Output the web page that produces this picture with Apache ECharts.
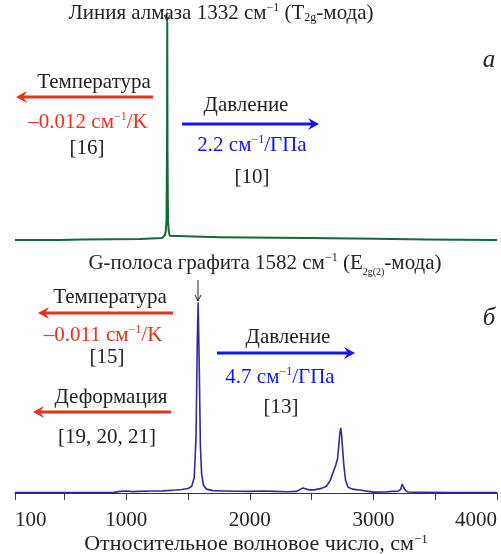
<!DOCTYPE html>
<html>
<head>
<meta charset="utf-8">
<script src="https://cdn.jsdelivr.net/npm/echarts@6/dist/echarts.min.js"></script>
<style>
    html, body { margin: 0; padding: 0; background: #fff; }
    #chart { width: 501px; height: 554px; }
</style>
</head>
<body>
<div id="chart"></div>
<script>
// спектр алмаза (верхняя панель)
const diamondX = [100, 300, 450, 455, 640, 650, 1110, 1120, 1290, 1300, 1312, 1320, 1326, 1330, 1332, 1334, 1338, 1344, 1352, 1362, 1750, 1760, 2460, 2470, 3020, 3030, 3420, 3430, 4000]
const diamondY = [0, 0, 0, 0.2, 0.2, 0.5, 0.5, 0.9, 0.9, 1.3, 2.2, 4, 9, 40, 100, 40, 9, 4, 2, 1.3, 1.3, 0.9, 0.9, 0.6, 0.6, 0.2, 0.2, 0, 0]

// спектр графита (нижняя панель)
const graphiteX = [100, 500, 900, 950, 1000, 1050, 1100, 1200, 1300, 1400, 1450, 1500, 1530, 1550, 1565, 1575, 1582, 1590, 1600, 1610, 1625, 1650, 1700, 1800, 1900, 2000, 2100, 2200, 2300, 2380, 2410, 2430, 2450, 2480, 2520, 2580, 2620, 2650, 2675, 2695, 2710, 2720, 2728, 2735, 2742, 2750, 2760, 2775, 2795, 2830, 2900, 3000, 3100, 3150, 3200, 3220, 3232, 3240, 3248, 3260, 3280, 3400, 3600, 4000]
const graphiteY = [0.2, 0.2, 0.3, 0.8, 1.0, 0.7, 0.8, 1.0, 1.1, 1.5, 1.8, 2.3, 3.5, 8, 30, 80, 100, 70, 25, 10, 4, 2, 1.2, 1.0, 0.9, 0.8, 1.0, 0.8, 0.6, 0.8, 2.0, 2.6, 2.2, 1.6, 1.6, 2.4, 3.5, 6.5, 11, 14.5, 18, 25, 31, 34, 31, 24, 15, 6.5, 3, 2, 1.4, 0.4, 0.5, 0.8, 0.9, 1.8, 4.5, 5.3, 3.5, 1.2, 0.5, 0.3, 0.2, 0.2]

const tickValues = [100, 500, 1000, 1500, 2000, 2500, 3000, 3500, 4000]
const labelValues = [100, 1000, 2000, 3000, 4000]

const FONT = '"Liberation Serif", "DejaVu Serif", serif'
const RED = '#e6311f'
const BLUE = '#1414f0'
const INK = '#222'

function pairs(xs, ys) {
    return xs.map((x, i) => [x, ys[i]])
}

function rich(color) {
    return {
        n: { fontSize: 21, fontFamily: FONT, fill: color, lineHeight: 22 },
        sup: { fontSize: 12, fontFamily: FONT, fill: color, lineHeight: 12, verticalAlign: 'top' },
        sub: { fontSize: 12, fontFamily: FONT, fill: color, lineHeight: 12, verticalAlign: 'bottom' },
        sub2: { fontSize: 10, fontFamily: FONT, fill: color, lineHeight: 10, verticalAlign: 'bottom', padding: [0, 0, -3, 0] }
    }
}

function label(x, y, text, color) {
    return {
        type: 'text', x: x, y: y, silent: true,
        style: {
            text: text, textAlign: 'center', textVerticalAlign: 'middle',
            fontSize: 21, fontFamily: FONT, fill: color || INK,
            rich: rich(color || INK)
        }
    }
}

function arrow(x1, x2, y, color) {
    // толстая стрелка, x2 - острие
    const d = x2 > x1 ? -1 : 1
    return [{
        type: 'line', silent: true,
        shape: { x1: x1, y1: y, x2: x2 + d * 4, y2: y },
        style: { stroke: color, lineWidth: 3 }
    }, {
        type: 'polygon', silent: true,
        shape: { points: [[x2, y], [x2 + d * 11, y - 6], [x2 + d * 7, y], [x2 + d * 11, y + 6]] },
        style: { fill: color }
    }]
}

function pointer(x, y1, y2) {
    return [{
        type: 'line', silent: true, z: 10,
        shape: { x1: x, y1: y1, x2: x, y2: y2 },
        style: { stroke: INK, lineWidth: 1 }
    }, {
        type: 'polyline', silent: true, z: 10,
        shape: { points: [[x - 3, y2 - 6], [x, y2], [x + 3, y2 - 6]] },
        style: { stroke: INK, lineWidth: 1, fill: null }
    }]
}

const graphic = [
    label(221, 13, '{n|Линия алмаза 1332 см}{sup|−1}{n| (T}{sub|2g}{n|-мода)}'),
    {
        type: 'text', x: 489, y: 60, silent: true,
        style: { text: 'а', textAlign: 'center', textVerticalAlign: 'middle', fontSize: 25, fontStyle: 'italic', fontFamily: FONT, fill: INK }
    },
    label(94, 82, 'Температура'),
    ...arrow(153, 16, 97, RED),
    label(88, 122, '{n|–0.012 см}{sup|−1}{n|/K}', RED),
    label(87, 148, '[16]'),
    label(246, 105, 'Давление'),
    ...arrow(182, 319, 124, BLUE),
    label(252, 145, '{n|2.2 см}{sup|−1}{n|/ГПа}', BLUE),
    label(252, 177, '[10]'),
    ...pointer(167, 12, 21),

    label(265, 263, '{n|G-полоса графита 1582 см}{sup|−1}{n| (E}{sub2|2g(2)}{n|-мода)}'),
    {
        type: 'text', x: 489, y: 318, silent: true,
        style: { text: 'б', textAlign: 'center', textVerticalAlign: 'middle', fontSize: 25, fontStyle: 'italic', fontFamily: FONT, fill: INK }
    },
    label(110, 297, 'Температура'),
    ...arrow(173, 38, 313, RED),
    label(103, 335, '{n|–0.011 см}{sup|−1}{n|/K}', RED),
    label(107, 357, '[15]'),
    label(111, 397, 'Деформация'),
    ...arrow(171, 33, 412, RED),
    label(107, 437, '[19, 20, 21]'),
    label(288, 337, 'Давление'),
    ...arrow(217, 355, 353, BLUE),
    label(280, 377, '{n|4.7 см}{sup|−1}{n|/ГПа}', BLUE),
    label(281, 407, '[13]'),
    ...pointer(198, 280, 301)
]

const chart = echarts.init(document.getElementById('chart'))
const option = {
    animation: false,
    grid: [
        { left: 15, right: 4, top: 22, height: 218, outerBoundsMode: 'none' },
        { left: 15, right: 4, top: 303, height: 196, outerBoundsMode: 'none' }
    ],
    xAxis: [{
        gridIndex: 0, type: 'value', min: 100, max: 4000, show: false
    }, {
        gridIndex: 1, type: 'value', min: 100, max: 4000,
        axisLine: { lineStyle: { color: '#333', width: 1 } },
        axisTick: { length: 7, lineStyle: { color: '#333' }, customValues: tickValues },
        axisLabel: {
            customValues: labelValues, fontSize: 21, fontFamily: FONT, color: INK, margin: 11,
            alignMinLabel: 'left', alignMaxLabel: 'right',
            formatter: (v) => String(v)
        },
        splitLine: { show: false },
        name: '{n|Относительное волновое число, см}{sup|−1}',
        nameLocation: 'middle',
        nameGap: 34,
        nameTextStyle: { fontFamily: FONT, fontSize: 22, color: INK, rich: {
            n: { fontSize: 22, fontFamily: FONT, color: INK, lineHeight: 22 },
            sup: { fontSize: 13, fontFamily: FONT, color: INK, lineHeight: 12, verticalAlign: 'top' }
        } }
    }],
    yAxis: [
        { gridIndex: 0, type: 'value', min: 0, max: 100, show: false },
        { gridIndex: 1, type: 'value', min: -3.2, max: 100, show: false }
    ],
    series: [{
        type: 'line', xAxisIndex: 0, yAxisIndex: 0,
        data: pairs(diamondX, diamondY),
        symbol: 'none', lineStyle: { color: '#13693a', width: 2, join: 'round' }
    }, {
        type: 'line', xAxisIndex: 1, yAxisIndex: 1,
        data: pairs(graphiteX, graphiteY),
        symbol: 'none', lineStyle: { color: '#2f2a9e', width: 1.6, join: 'round' }
    }],
    graphic: graphic
}
chart.setOption(option)
</script>
</body>
</html>
